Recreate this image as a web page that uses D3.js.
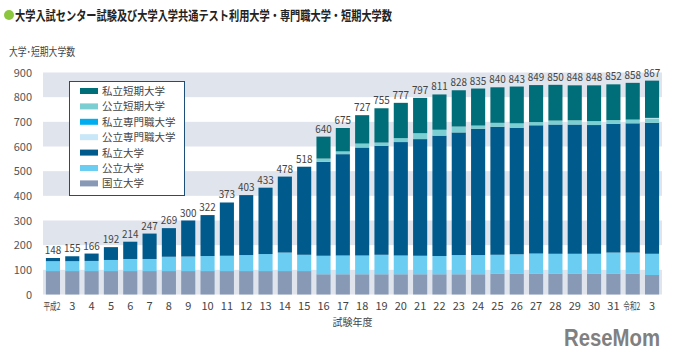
<!DOCTYPE html>
<html>
<head>
<meta charset="utf-8">
<script src="https://cdn.jsdelivr.net/npm/d3@7"></script>
<style>
  body { margin: 0; background: #fff; }
  text { font-family: "Noto Sans CJK JP", "Noto Sans", sans-serif; }
</style>
</head>
<body>
<div id="chart"></div>
<script>
// Data
var years = ["平成2","3","4","5","6","7","8","9","10","11","12","13","14","15","16","17",
  "18","19","20","21","22","23","24","25","26","27","28","29","30","31","令和2","3"];

var kokuritsu = [95,95,95,95,95,95,95,95,95,95,95,95,95,95,
  82,82,82,82,82,82,82,82,82, 85,85,85,85,85,85,85,85, 79];
var koritsu = [40,40,41,45,49,49,58,59,61,62,65,69,75,66,
  75,76,76,79,76,75,74,78,78,76,78,81,80,80,80,85,85,86];
var shiritsu = [13,20,30,52,70,103,116,146,166,216,243,269,308,357,
  381,411,438,442,460,473,488,497,512,519,513,520,524,524,522,522,524,531];
var koritsuTanki = [0,0,0,0,0,0,0,0,0,0,0,0,0,0,
  13,11,16,13,16,24,24,24,13,16,18,13,16,17,16,15,15,18];
var koritsuSenmon = [0,0,0,0,0,0,0,0,0,0,0,0,0,0,0,0,0,0,0,0,0,0,0,0,0,0,0,0,0,0,0,2];
var shiritsuSenmon = [0,0,0,0,0,0,0,0,0,0,0,0,0,0,0,0,0,0,0,0,0,0,0,0,0,0,0,0,0,0,0,0];
var shiritsuTanki = [0,0,0,0,0,0,0,0,0,0,0,0,0,0,
  89,95,115,139,143,143,143,147,150,144,149,150,145,142,145,145,149,151];

var yTicks = [0,100,200,300,400,500,600,700,800,900];

// series: stacking order bottom to top
var series = [
  {key: "kokuritsu", name: "国立大学", values: kokuritsu, color: "#8899b6"},
  {key: "koritsu", name: "公立大学", values: koritsu, color: "#6ccdf2"},
  {key: "shiritsu", name: "私立大学", values: shiritsu, color: "#005b8c"},
  {key: "koritsuTanki", name: "公立短期大学", values: koritsuTanki, color: "#7bcfd2"},
  {key: "koritsuSenmon", name: "公立専門職大学", values: koritsuSenmon, color: "#c8e7f8"},
  {key: "shiritsuSenmon", name: "私立専門職大学", values: shiritsuSenmon, color: "#00aeef"},
  {key: "shiritsuTanki", name: "私立短期大学", values: shiritsuTanki, color: "#006e78"}
];
var legendOrder = ["shiritsuTanki","koritsuTanki","shiritsuSenmon","koritsuSenmon","shiritsu","koritsu","kokuritsu"];

var table = years.map(function(y, i) {
  var row = {year: y};
  series.forEach(function(s) { row[s.key] = s.values[i]; });
  return row;
});

// Set chart parameters
var svgWidth = 674;
var svgHeight = 361;
var plot = {left: 43, right: 662, top: 72.5, bottom: 294.5};

var svg = d3.select("#chart")
  .append("svg")
  .attr("width", svgWidth)
  .attr("height", svgHeight);

// scales
var x = d3.scaleBand()
  .domain(years.map(function(d, i) { return i; }))
  .range([plot.left, plot.right])
  .paddingInner(0.27)
  .paddingOuter(0.15);

var y = d3.scaleLinear()
  .domain([0, 900])
  .range([plot.bottom, plot.top]);

// alternating background bands
svg.append("g")
  .selectAll("rect")
  .data(yTicks.filter(function(d, i) { return i % 2 === 0 && d < 900; }))
  .enter()
  .append("rect")
  .attr("x", plot.left)
  .attr("width", plot.right - plot.left)
  .attr("y", function(d) { return y(d + 100); })
  .attr("height", function(d) { return y(d) - y(d + 100); })
  .attr("fill", "#dfe4ed");

// stacked bars
var stack = d3.stack().keys(series.map(function(s) { return s.key; }));
var stacked = stack(table);

svg.append("g")
  .selectAll("g")
  .data(stacked)
  .enter()
  .append("g")
  .attr("fill", function(d, i) { return series[i].color; })
  .selectAll("rect")
  .data(function(d) { return d; })
  .enter()
  .append("rect")
  .attr("x", function(d, i) { return x(i); })
  .attr("width", x.bandwidth())
  .attr("y", function(d) { return y(d[1]); })
  .attr("height", function(d) { return y(d[0]) - y(d[1]); });

// totals above bars
function total(d) {
  return d3.sum(series, function(s) { return d[s.key]; });
}

svg.append("g")
  .selectAll("text")
  .data(table)
  .enter()
  .append("text")
  .attr("x", function(d, i) { return x(i) + x.bandwidth() / 2; })
  .attr("y", function(d) { return y(total(d)) - 4; })
  .attr("text-anchor", "middle")
  .attr("font-size", "11px")
  .attr("fill", "#444")
  .attr("textLength", 16.5)
  .attr("lengthAdjust", "spacingAndGlyphs")
  .text(total);

// axes
var leftAxis = d3.axisLeft(y).tickValues(yTicks).tickSize(0).tickPadding(11);
var gy = svg.append("g")
  .attr("transform", "translate(" + plot.left + ",0)")
  .call(leftAxis);
gy.select(".domain").remove();
gy.selectAll("text").attr("font-size", "11px").attr("fill", "#555")
  .style("font-family", "\"Noto Sans CJK JP\", sans-serif");

var bottomAxis = d3.axisBottom(x).tickSize(0).tickPadding(8)
  .tickFormat(function(i) { return years[i]; });
var gx = svg.append("g")
  .attr("transform", "translate(0," + plot.bottom + ")")
  .call(bottomAxis);
gx.select(".domain").remove();
gx.selectAll("text").attr("font-size", "11px").attr("fill", "#444")
  .style("font-family", "\"Noto Sans CJK JP\", sans-serif");
// the era labels are condensed in the original
gx.selectAll("text")
  .filter(function(i) { return years[i].length > 2; })
  .attr("font-size", "10.5px")
  .attr("dx", -1)
  .attr("textLength", 17)
  .attr("lengthAdjust", "spacingAndGlyphs");

// axis titles
svg.append("text")
  .attr("x", (plot.left + plot.right) / 2)
  .attr("y", 326)
  .attr("text-anchor", "middle")
  .attr("font-size", "10px")
  .attr("fill", "#444")
  .text("試験年度");

svg.append("text")
  .attr("x", 9)
  .attr("y", 56)
  .attr("font-size", "11px")
  .attr("fill", "#444")
  .attr("textLength", 66)
  .attr("lengthAdjust", "spacingAndGlyphs")
  .text("大学･短期大学数");

// title
svg.append("circle")
  .attr("cx", 9)
  .attr("cy", 15)
  .attr("r", 5)
  .attr("fill", "#8cc63f");

svg.append("text")
  .attr("x", 15)
  .attr("y", 20)
  .attr("font-size", "13px")
  .attr("font-weight", "bold")
  .attr("fill", "#222")
  .attr("textLength", 377)
  .attr("lengthAdjust", "spacingAndGlyphs")
  .text("大学入試センター試験及び大学入学共通テスト利用大学・専門職大学・短期大学数");

// legend
var legend = svg.append("g").attr("transform", "translate(69, 81)");
legend.append("rect")
  .attr("x", 0.5)
  .attr("y", 0.5)
  .attr("width", 115)
  .attr("height", 114)
  .attr("fill", "#fff")
  .attr("stroke", "#1e4f78")
  .attr("stroke-width", 1);

var items = legend.selectAll("g.item")
  .data(legendOrder.map(function(k) { return series.find(function(s) { return s.key === k; }); }))
  .enter()
  .append("g")
  .attr("class", "item")
  .attr("transform", function(d, i) { return "translate(11," + (10 + i * 15.4) + ")"; });

items.append("rect")
  .attr("width", 18)
  .attr("height", 6)
  .attr("y", -3)
  .attr("fill", function(d) { return d.color; });

items.append("text")
  .attr("x", 22)
  .attr("y", 4)
  .attr("font-size", "10.5px")
  .attr("fill", "#444")
  .text(function(d) { return d.name; });

// watermark
svg.append("text")
  .attr("x", 564)
  .attr("y", 346)
  .attr("font-size", "23px")
  .attr("font-weight", "bold")
  .attr("fill", "#808080")
  .attr("textLength", 96)
  .attr("lengthAdjust", "spacingAndGlyphs")
  .style("font-family", "\"Liberation Sans\", sans-serif")
  .text("ReseMom");
</script>
</body>
</html>
